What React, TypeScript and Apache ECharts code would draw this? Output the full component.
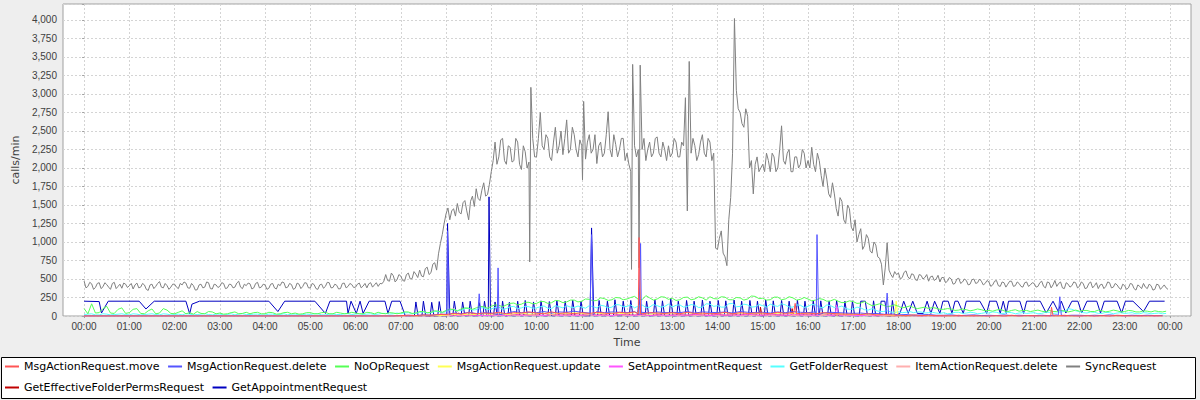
import React, { useEffect, useRef } from "react";
import * as echarts from "echarts";

const FONT = "Liberation Sans";
const LEGEND_FONT = "DejaVu Sans";

const timeLabels = [
  "00:00", "01:00", "02:00", "03:00", "04:00", "05:00", "06:00", "07:00", "08:00",
  "09:00", "10:00", "11:00", "12:00", "13:00", "14:00", "15:00", "16:00", "17:00",
  "18:00", "19:00", "20:00", "21:00", "22:00", "23:00", "00:00",
];

const seriesNames = [
  "MsgActionRequest.move",
  "MsgActionRequest.delete",
  "NoOpRequest",
  "MsgActionRequest.update",
  "SetAppointmentRequest",
  "GetFolderRequest",
  "ItemActionRequest.delete",
  "SyncRequest",
  "GetEffectiveFolderPermsRequest",
  "GetAppointmentRequest",
];

const seriesColors = [
  "#FF5555", "#5555FF", "#55FF55", "#FFFF55", "#FF55FF",
  "#55FFFF", "#FFAFAF", "#808080", "#C00000", "#0000C0",
];

// SyncRequest at hh:00, hh:05, ... (rows = hours)
const syncRequest5Min = [
  470, 400, 435, 385, 450, 395, 425, 360, 455, 400, 375, 430,
  410, 365, 445, 390, 420, 345, 430, 400, 465, 380, 410, 390,
  430, 370, 420, 445, 375, 410, 355, 430, 390, 450, 365, 420,
  400, 440, 380, 425, 390, 470, 370, 410, 435, 380, 455, 390,
  420, 375, 440, 365, 410, 450, 390, 425, 375, 430, 400, 445,
  380, 425, 360, 430, 400, 450, 385, 415, 370, 445, 400, 425,
  390, 445, 405, 380, 450, 420, 400, 435, 560, 470, 545, 490,
  540, 470, 580, 505, 565, 620, 530, 660, 585, 720, 840, 1100,
  1380, 1300, 1450, 1520, 1380, 1560, 1300, 1620, 1720, 1560, 1800, 1640,
  1950, 2350, 2150, 2400, 2050, 2280, 2100, 2350, 1980, 2220, 2080, 2400,
  2150, 2750, 2250, 2400, 2100, 2550, 2300, 2180, 2650, 2250, 2450, 2150,
  2300, 2120, 2450, 2250, 2060, 2350, 2200, 2760, 2150, 2320, 2250, 2400,
  2200, 1950, 2300, 2250, 2250, 2100, 2350, 2200, 2420, 2150, 2250, 2300,
  2200, 2350, 2150, 2300, 1420, 2200, 2300, 2180, 2450, 2150, 2350, 2200,
  900, 1150, 800, 1300, 2200, 3050, 2750, 2550, 2700, 2100, 2050, 1950,
  2050, 2200, 1950, 2150, 2000, 2570, 2050, 2250, 1950, 2150, 2050, 2200,
  2100, 2280, 1950, 2100, 1750, 1850, 1600, 1650, 1350, 1550, 1250, 1450,
  1150, 1000, 1180, 950, 1050, 850, 960, 780, 420, 990, 560, 600,
  580, 520, 610, 500, 560, 480, 550, 520, 470, 540, 500, 460,
  520, 470, 500, 440, 510, 460, 480, 430, 500, 450, 470, 440,
  460, 420, 480, 400, 450, 430, 470, 410, 440, 390, 460, 420,
  440, 400, 470, 380, 450, 420, 400, 460, 370, 430, 410, 450,
  400, 440, 380, 460, 410, 370, 430, 400, 450, 390, 420, 360,
  410, 380, 430, 350, 400, 440, 370, 410, 360, 420, 390, 380,
];
// SyncRequest at hh:02.5, hh:07.5, ... (rows = hours)
const syncRequestMid = [
  380, 455, 360, 440, 370, 450, 390, 440, 370, 430, 445, 385,
  440, 420, 380, 440, 360, 420, 370, 440, 390, 440, 360, 430,
  390, 440, 460, 380, 440, 350, 420, 380, 460, 370, 430, 385,
  450, 370, 430, 380, 445, 390, 430, 445, 365, 440, 380, 430,
  360, 430, 380, 430, 460, 380, 440, 360, 445, 370, 450, 380,
  440, 370, 420, 375, 455, 380, 430, 365, 440, 380, 440, 385,
  430, 380, 440, 435, 390, 450, 440, 470, 480, 580, 460, 560,
  480, 560, 500, 600, 520, 540, 640, 560, 700, 620, 980, 1250,
  1460, 1420, 1350, 1400, 1530, 1420, 1550, 1480, 1590, 1700, 1620, 1780,
  2100, 2050, 2380, 2100, 2300, 2080, 2400, 2050, 2300, 2000, 3090, 2150,
  2400, 2300, 2450, 2150, 2350, 2200, 2500, 2400, 2200, 2550, 2250, 2380,
  2900, 2350, 2200, 2450, 2300, 2150, 2450, 2250, 2450, 2150, 2400, 2100,
  2050, 3400, 2150, 3390, 2400, 2250, 2150, 2400, 2200, 2350, 2100, 2150,
  2400, 2150, 2350, 2950, 3440, 2400, 2100, 2350, 2200, 2400, 2100, 916,
  1050, 850, 680, 1600, 4020, 2800, 2600, 2800, 2000, 1650, 2150, 2000,
  1950, 2100, 2200, 1950, 2250, 2100, 2200, 1950, 2150, 2000, 2250, 2000,
  2000, 2050, 2200, 1900, 2000, 1650, 1800, 1450, 1600, 1300, 1500, 1200,
  1300, 1100, 900, 1100, 880, 1000, 800, 700, 650, 620, 520, 560,
  500, 590, 530, 570, 490, 560, 500, 560, 530, 480, 550, 520,
  450, 520, 430, 500, 440, 500, 420, 490, 440, 500, 420, 480,
  400, 470, 410, 460, 390, 470, 400, 460, 400, 450, 400, 450,
  390, 450, 400, 460, 380, 480, 440, 380, 450, 390, 460, 380,
  460, 370, 440, 380, 450, 420, 370, 460, 380, 440, 380, 430,
  360, 440, 370, 420, 370, 390, 430, 350, 430, 360, 420, 360,
];
// SyncRequest dips recorded between samples: [minute, value]
const syncRequestExtra: [number, number][] = [[591, 730], [661, 1840], [726, 630], [736, 650]];

// NoOpRequest at hh:00, hh:10, ... and at hh:05, hh:15, ...
const noOpRequest10Min = [
  100, 165, 45, 130, 35, 110,
  45, 100, 30, 95, 40, 80,
  30, 70, 45, 60, 30, 55,
  40, 30, 55, 35, 30, 50,
  30, 45, 30, 50, 40, 30,
  45, 30, 50, 30, 40, 35,
  40, 30, 45, 50, 30, 40,
  40, 55, 40, 60, 50, 65,
  75, 85, 95, 105, 110, 125,
  130, 145, 150, 175, 160, 185,
  170, 195, 180, 205, 190, 215,
  200, 225, 210, 235, 220, 245,
  230, 265, 220, 245, 230, 255,
  240, 220, 255, 230, 245, 260,
  230, 255, 220, 245, 230, 265,
  240, 220, 255, 230, 245, 225,
  230, 215, 225, 205, 200, 185,
  195, 175, 165, 150, 145, 135,
  130, 120, 115, 110, 100, 105,
  90, 95, 80, 85, 80, 85,
  75, 80, 70, 75, 65, 75,
  70, 65, 75, 60, 70, 65,
  65, 75, 60, 70, 65, 70,
  60, 70, 55, 65, 70, 55,
];
const noOpRequestMid = [
  30, 40, 100, 40, 90, 35,
  90, 35, 70, 30, 100, 35,
  50, 30, 25, 35, 60, 30,
  25, 45, 30, 50, 45, 30,
  50, 25, 45, 30, 25, 45,
  30, 45, 30, 50, 30, 50,
  30, 50, 30, 35, 45, 30,
  55, 35, 60, 45, 70, 50,
  95, 70, 110, 90, 130, 105,
  150, 125, 170, 150, 185, 165,
  195, 170, 210, 180, 215, 190,
  230, 205, 245, 210, 250, 220,
  250, 225, 275, 215, 260, 225,
  210, 250, 220, 260, 215, 235,
  260, 220, 250, 215, 270, 235,
  215, 255, 220, 260, 215, 250,
  205, 235, 200, 225, 180, 205,
  170, 195, 140, 165, 125, 150,
  110, 135, 100, 120, 115, 90,
  100, 75, 95, 70, 95, 70,
  65, 90, 60, 85, 75, 60,
  80, 55, 60, 75, 55, 80,
  75, 60, 80, 55, 80, 55,
  75, 55, 70, 55, 60, 65,
];

const getFolderRequest10Min = [
  20, 30, 15, 25, 20, 30,
  15, 25, 20, 30, 15, 25,
  20, 15, 25, 20, 30, 15,
  25, 20, 15, 30, 20, 25,
  15, 25, 20, 15, 25, 20,
  20, 30, 15, 25, 20, 30,
  25, 20, 30, 25, 35, 30,
  30, 45, 35, 55, 45, 60,
  65, 90, 75, 105, 85, 110,
  95, 120, 100, 130, 110, 125,
  110, 135, 100, 125, 140, 115,
  120, 140, 110, 135, 120, 150,
  130, 110, 150, 120, 140, 130,
  120, 150, 130, 145, 120, 160,
  140, 120, 170, 130, 150, 125,
  140, 160, 130, 150, 120, 145,
  130, 150, 110, 140, 120, 100,
  95, 110, 80, 75, 60, 55,
  60, 50, 45, 55, 45, 40,
  45, 35, 50, 40, 45, 35,
  40, 50, 35, 45, 40, 35,
  45, 35, 50, 40, 60, 90,
  60, 40, 50, 35, 45, 40,
  35, 45, 30, 40, 35, 30,
];
const getFolderRequestMid = [
  25, 15, 30, 15, 25, 20,
  30, 15, 25, 20, 30, 15,
  25, 30, 15, 25, 20, 25,
  15, 30, 25, 20, 25, 15,
  25, 15, 30, 25, 15, 25,
  30, 15, 25, 20, 30, 20,
  30, 25, 20, 35, 25, 40,
  40, 30, 50, 40, 60, 45,
  80, 70, 100, 80, 110, 90,
  115, 90, 125, 100, 130, 105,
  125, 105, 140, 110, 120, 135,
  105, 125, 145, 110, 155, 125,
  150, 135, 115, 155, 120, 160,
  145, 120, 155, 115, 165, 130,
  120, 165, 125, 160, 120, 155,
  120, 140, 165, 120, 150, 115,
  155, 120, 150, 115, 135, 90,
  120, 85, 100, 60, 70, 45,
  45, 60, 55, 40, 50, 35,
  30, 50, 35, 50, 30, 45,
  55, 35, 50, 30, 45, 40,
  30, 50, 35, 55, 100, 70,
  45, 55, 35, 50, 30, 45,
  40, 30, 45, 30, 40, 35,
];

const msgActionMove10Min = [
  0, 0, 0, 0, 0, 0,
  0, 0, 0, 0, 0, 0,
  0, 0, 0, 0, 0, 0,
  0, 0, 0, 0, 0, 0,
  0, 0, 0, 0, 0, 0,
  0, 0, 0, 0, 0, 0,
  0, 0, 0, 0, 0, 0,
  5, 10, 5, 15, 10, 20,
  20, 35, 25, 45, 30, 40,
  35, 50, 30, 45, 40, 55,
  40, 30, 55, 35, 45, 30,
  45, 35, 50, 40, 30, 50,
  40, 55, 30, 45, 40, 35,
  45, 30, 50, 35, 40, 30,
  35, 50, 30, 45, 35, 40,
  40, 30, 50, 35, 45, 35,
  40, 30, 45, 35, 30, 25,
  25, 20, 30, 15, 20, 15,
  10, 5, 15, 5, 10, 5,
  5, 0, 10, 0, 5, 0,
  0, 5, 0, 10, 0, 5,
  5, 0, 5, 0, 10, 0,
  0, 5, 0, 5, 0, 10,
  5, 0, 5, 0, 5, 0,
];
const msgActionMoveExtra: [number, number][] = [
  [735, 30], [736, 1060], [738, 30], [941, 30], [943, 170], [945, 30],
  [1282, 5], [1283, 120], [1285, 5],
];

const msgActionDelete10Min = [
  0, 0, 0, 0, 0, 0,
  0, 0, 0, 0, 0, 0,
  0, 0, 0, 0, 0, 0,
  0, 0, 0, 0, 0, 0,
  0, 0, 0, 0, 0, 0,
  0, 0, 0, 0, 0, 0,
  0, 0, 0, 0, 0, 0,
  5, 10, 5, 15, 10, 20,
  25, 40, 30, 50, 35, 45,
  40, 55, 35, 60, 45, 50,
  45, 60, 40, 55, 50, 65,
  50, 40, 60, 45, 55, 50,
  45, 60, 50, 40, 55, 45,
  50, 45, 60, 40, 55, 50,
  45, 55, 40, 60, 50, 45,
  50, 40, 55, 45, 60, 50,
  45, 55, 40, 50, 45, 40,
  35, 40, 30, 35, 25, 30,
  15, 20, 10, 15, 20, 10,
  10, 15, 5, 10, 15, 5,
  10, 5, 15, 5, 10, 5,
  5, 10, 5, 15, 5, 10,
  10, 5, 10, 5, 15, 5,
  5, 10, 5, 10, 5, 5,
];
const msgActionDeleteExtra: [number, number][] = [
  [481, 20], [482, 1150], [484, 20],
  [522, 20], [524, 300], [526, 20],
  [548, 20], [549, 650], [551, 20],
  [671, 20], [673, 1100], [675, 20],
  [736, 20], [738, 980], [739, 20],
  [971, 20], [972, 1100], [974, 20],
  [1063, 20], [1065, 310], [1067, 20],
  [1292, 10], [1294, 260], [1296, 10],
];

const msgActionUpdate10Min = [
  0, 0, 0, 0, 0, 0,
  0, 0, 0, 0, 0, 0,
  0, 0, 0, 0, 0, 0,
  0, 0, 0, 0, 0, 0,
  0, 0, 0, 0, 0, 0,
  0, 0, 0, 0, 0, 0,
  0, 0, 0, 0, 0, 0,
  0, 5, 0, 5, 10, 5,
  10, 20, 15, 25, 20, 30,
  25, 35, 20, 30, 40, 25,
  30, 40, 25, 35, 30, 45,
  35, 25, 40, 30, 45, 35,
  30, 45, 35, 25, 40, 30,
  40, 30, 45, 35, 30, 40,
  35, 45, 30, 40, 35, 30,
  40, 30, 35, 45, 30, 35,
  30, 40, 25, 35, 30, 25,
  20, 25, 15, 20, 15, 10,
  10, 5, 10, 5, 10, 5,
  5, 0, 5, 0, 5, 0,
  5, 0, 5, 0, 5, 0,
  5, 0, 5, 0, 5, 0,
  5, 0, 5, 0, 5, 0,
  5, 0, 5, 0, 5, 0,
];
const msgActionUpdateExtra: [number, number][] = [[1075, 5], [1077, 200], [1079, 5]];

const setAppointment10Min = [
  0, 0, 0, 0, 0, 0,
  0, 0, 0, 0, 0, 0,
  0, 0, 0, 0, 0, 0,
  0, 0, 0, 0, 0, 0,
  0, 0, 0, 0, 0, 0,
  0, 0, 0, 0, 0, 0,
  0, 0, 0, 0, 0, 0,
  0, 0, 5, 0, 5, 5,
  5, 10, 5, 15, 10, 5,
  10, 15, 5, 20, 10, 15,
  15, 5, 20, 10, 15, 10,
  10, 20, 10, 15, 5, 20,
  15, 10, 20, 5, 15, 10,
  10, 15, 10, 20, 15, 5,
  20, 10, 15, 10, 25, 15,
  10, 20, 15, 10, 20, 15,
  15, 10, 20, 10, 40, 15,
  10, 5, 10, 5, 10, 5,
  5, 10, 5, 0, 5, 0,
  0, 5, 0, 5, 0, 5,
  0, 5, 0, 5, 0, 5,
  0, 5, 0, 5, 0, 5,
  0, 5, 0, 5, 0, 5,
  0, 5, 0, 5, 0, 5,
];
const setAppointmentExtra: [number, number][] = [[996, 10], [998, 150], [1001, 10]];

const itemActionDelete10Min = [
  0, 0, 0, 0, 0, 0,
  0, 0, 0, 0, 0, 0,
  0, 0, 0, 0, 0, 0,
  0, 0, 0, 0, 0, 0,
  0, 0, 0, 0, 0, 0,
  0, 0, 0, 0, 0, 0,
  0, 0, 0, 0, 0, 0,
  0, 5, 0, 5, 10, 15,
  60, 100, 20, 10, 15, 10,
  10, 5, 15, 10, 5, 10,
  5, 10, 15, 5, 10, 5,
  10, 15, 5, 10, 5, 15,
  5, 10, 5, 15, 10, 5,
  10, 5, 15, 5, 10, 15,
  5, 15, 10, 5, 10, 5,
  15, 5, 10, 15, 5, 10,
  5, 10, 5, 10, 15, 5,
  5, 10, 5, 0, 5, 0,
  0, 0, 0, 0, 0, 0,
  0, 0, 0, 0, 0, 0,
  0, 0, 0, 0, 0, 0,
  0, 0, 0, 0, 0, 0,
  0, 0, 0, 0, 0, 0,
  0, 0, 0, 0, 0, 0,
];

const getEffectivePerms10Min = [
  0, 0, 0, 0, 0, 0,
  0, 0, 0, 0, 0, 0,
  0, 0, 0, 0, 0, 0,
  0, 0, 0, 0, 0, 0,
  0, 0, 0, 0, 0, 0,
  0, 0, 0, 0, 0, 0,
  0, 0, 0, 0, 0, 0,
  0, 5, 0, 5, 0, 5,
  5, 10, 5, 15, 10, 5,
  10, 15, 5, 20, 10, 15,
  15, 5, 20, 10, 15, 10,
  10, 20, 10, 15, 5, 20,
  15, 10, 20, 5, 15, 10,
  10, 15, 10, 20, 15, 5,
  20, 10, 15, 10, 25, 15,
  10, 20, 15, 10, 20, 15,
  15, 10, 20, 10, 15, 10,
  10, 5, 10, 5, 5, 0,
  5, 0, 5, 0, 5, 0,
  0, 5, 0, 5, 0, 5,
  0, 5, 0, 5, 0, 5,
  0, 5, 0, 5, 0, 5,
  0, 5, 0, 5, 0, 5,
  0, 5, 0, 5, 0, 5,
];
const getEffectivePermsExtra: [number, number][] = [
  [896, 5], [897, 120], [899, 5], [938, 5], [939, 100], [941, 5],
];

// GetAppointmentRequest, points as recorded: [minute, value]
const getAppointmentPoints: [number, number][] = [
  [0, 200], [20, 195], [23, 40], [32, 200], [73, 200], [82, 95], [93, 200],
  [135, 200], [140, 30], [143, 160], [153, 200], [245, 200], [257, 60], [266, 200],
  [306, 200], [320, 35], [326, 200], [348, 200], [350, 35], [354, 200], [361, 35],
  [366, 200], [370, 35], [378, 200], [399, 200], [403, 35], [408, 200], [419, 200], [426, 0],
  [438, 0], [440, 190], [443, 0], [448, 0], [450, 200], [453, 0],
  [459, 0], [461, 185], [464, 0], [469, 0], [471, 195], [474, 0],
  [481, 0], [482, 1250], [485, 0], [489, 0], [491, 200], [494, 0],
  [500, 0], [502, 190], [505, 0], [510, 0], [512, 200], [515, 0],
  [522, 0], [524, 180], [527, 0], [529, 0], [531, 200], [534, 0],
  [536, 0], [537, 1610], [539, 0], [543, 0], [545, 190], [548, 0],
  [553, 0], [555, 200], [558, 0], [562, 0], [564, 185], [567, 0],
  [573, 0], [575, 200], [578, 0], [583, 0], [585, 210], [588, 0],
  [594, 0], [596, 190], [599, 0], [604, 0], [606, 205], [609, 0],
  [615, 0], [617, 195], [620, 0], [625, 0], [627, 210], [630, 0],
  [636, 0], [638, 200], [641, 0], [646, 0], [648, 215], [651, 0],
  [657, 0], [659, 200], [662, 0], [671, 0], [673, 1190], [676, 0],
  [681, 0], [683, 210], [686, 0], [692, 0], [694, 200], [697, 0],
  [702, 0], [704, 220], [707, 0], [713, 0], [715, 200], [718, 0],
  [723, 0], [725, 210], [728, 0], [734, 0], [736, 230], [739, 0],
  [744, 0], [746, 200], [749, 0], [755, 0], [757, 215], [760, 0],
  [765, 0], [767, 205], [770, 0], [776, 0], [778, 240], [781, 0],
  [786, 0], [788, 200], [791, 0], [797, 0], [799, 210], [802, 0],
  [807, 0], [809, 200], [812, 0], [818, 0], [820, 215], [823, 0],
  [828, 0], [830, 200], [833, 0], [839, 0], [841, 210], [844, 0],
  [849, 0], [851, 205], [854, 0], [860, 0], [862, 215], [865, 0],
  [870, 0], [872, 200], [875, 0], [881, 0], [883, 210], [886, 0],
  [891, 0], [893, 200], [896, 0], [902, 0], [904, 215], [907, 0],
  [912, 0], [914, 205], [917, 0], [923, 0], [925, 210], [928, 0],
  [933, 0], [935, 200], [938, 0], [944, 0], [946, 215], [949, 0],
  [954, 0], [956, 200], [959, 0], [965, 0], [967, 210], [970, 0],
  [975, 0], [977, 205], [980, 0], [986, 0], [988, 200], [991, 0],
  [996, 0], [998, 210], [1001, 0], [1007, 0], [1009, 200], [1012, 0],
  [1017, 0], [1019, 205], [1022, 0], [1028, 0], [1030, 200], [1036, 200], [1039, 0],
  [1045, 0], [1047, 205], [1050, 0], [1055, 0], [1057, 200], [1062, 200], [1065, 0],
  [1070, 0], [1072, 210], [1075, 0],
  [1082, 35], [1087, 200], [1093, 35], [1099, 200], [1105, 35], [1113, 35], [1118, 200],
  [1123, 35], [1128, 200], [1135, 35], [1139, 200], [1146, 200], [1151, 35], [1155, 200],
  [1159, 200], [1166, 35], [1170, 200], [1188, 200], [1197, 35], [1201, 200], [1210, 200],
  [1215, 35], [1219, 200], [1223, 35], [1226, 200], [1241, 200], [1246, 35], [1250, 200],
  [1268, 200], [1276, 40], [1285, 200], [1292, 60], [1296, 200], [1302, 40], [1310, 200],
  [1318, 200], [1323, 40], [1330, 200], [1343, 200], [1348, 40], [1353, 200], [1370, 200],
  [1376, 40], [1381, 200], [1391, 200], [1405, 60], [1413, 200], [1433, 200],
];

function buildSeries(
  values: number[],
  step: number,
  mids: number[] = [],
  extra: [number, number][] = []
) {
  const pts: [number, number][] = values.map((v, i) => [i * step, v]);
  const midPts: [number, number][] = mids.map((v, i) => [i * step + step / 2, v]);
  return pts.concat(midPts, extra).sort((a, b) => a[0] - b[0]);
}

const seriesData: [number, number][][] = [
  buildSeries(msgActionMove10Min, 10, [], msgActionMoveExtra),
  buildSeries(msgActionDelete10Min, 10, [], msgActionDeleteExtra),
  buildSeries(noOpRequest10Min, 10, noOpRequestMid),
  buildSeries(msgActionUpdate10Min, 10, [], msgActionUpdateExtra),
  buildSeries(setAppointment10Min, 10, [], setAppointmentExtra),
  buildSeries(getFolderRequest10Min, 10, getFolderRequestMid),
  buildSeries(itemActionDelete10Min, 10),
  buildSeries(syncRequest5Min, 5, syncRequestMid, syncRequestExtra),
  buildSeries(getEffectivePerms10Min, 10, [], getEffectivePermsExtra),
  getAppointmentPoints.slice(),
];

export default function App() {
  const ref = useRef<HTMLDivElement>(null);

  useEffect(() => {
    document.body.style.margin = "0";
    if (!ref.current) return;
    const chart = echarts.init(ref.current, undefined, { renderer: "svg" });

    const gridLine = { show: true, lineStyle: { color: "#d4d4d4", type: [2, 2], width: 1 } };
    const tickStyle = { show: true, length: 2, lineStyle: { color: "#a0a0a0" } };

    const series = seriesNames
      .map((name, i) => ({
        name,
        type: "line",
        xAxisIndex: 0,
        yAxisIndex: 0,
        data: seriesData[i],
        showSymbol: false,
        symbol: "none",
        color: seriesColors[i],
        itemStyle: { color: seriesColors[i] },
        lineStyle: { color: seriesColors[i], width: 1 },
        emphasis: { disabled: true },
      }))
      .reverse();

    const legendItems = (from: number, to: number) =>
      seriesNames.slice(from, to).map((name, k) => ({
        name,
        icon: "rect",
        itemStyle: { color: seriesColors[from + k] },
      }));

    const legendCommon = {
      left: 5,
      orient: "horizontal",
      itemWidth: 14,
      itemHeight: 2,
      itemGap: 8.5,
      padding: 0,
      selectedMode: false,
      textStyle: { fontSize: 11, color: "#000000", fontFamily: LEGEND_FONT },
    };

    chart.setOption({
      animation: false,
      backgroundColor: "#eeeeee",
      textStyle: { fontFamily: FONT },
      grid: [
        {
          left: 63, top: 4, width: 1128, height: 312, show: true,
          backgroundColor: "#ffffff", borderColor: "#a0a0a0", borderWidth: 1,
        },
        { left: 84, top: 4, width: 1086, height: 312, show: false },
      ],
      xAxis: [
        { gridIndex: 0, type: "value", min: -28, max: 1468, show: false },
        {
          gridIndex: 1, type: "value", min: 0, max: 1440, interval: 60,
          axisLine: { show: false },
          axisTick: tickStyle,
          axisLabel: {
            formatter: (v: number) => timeLabels[Math.round(v / 60)] ?? "",
            fontSize: 10, color: "#404040", margin: 5, fontFamily: FONT,
          },
          splitLine: gridLine,
          name: "Time", nameLocation: "middle", nameGap: 21,
          nameTextStyle: { fontSize: 11, color: "#404040", fontFamily: LEGEND_FONT },
        },
      ],
      yAxis: [
        {
          gridIndex: 0, type: "value", min: 0, max: 4216, interval: 250,
          axisLine: { show: false },
          axisTick: tickStyle,
          axisLabel: {
            formatter: (v: number) => (v % 250 === 0 ? v.toLocaleString("en-US") : ""),
            fontSize: 10, color: "#404040", margin: 6, fontFamily: FONT,
          },
          splitLine: gridLine,
          name: "calls/min", nameLocation: "middle", nameGap: 40, nameRotate: 90,
          nameTextStyle: { fontSize: 11, color: "#404040", fontFamily: LEGEND_FONT },
        },
        { gridIndex: 1, type: "value", min: 0, max: 4216, show: false },
      ],
      legend: [
        { ...legendCommon, top: 361, data: legendItems(0, 8) },
        { ...legendCommon, top: 382, data: legendItems(8, 10) },
      ],
      graphic: [
        {
          type: "rect", z: 0,
          shape: { x: 1.5, y: 357.5, width: 1194, height: 41 },
          style: { fill: "#ffffff", stroke: "#000000", lineWidth: 1 },
          silent: true,
        },
      ],
      series,
    });

    return () => chart.dispose();
  }, []);

  return <div ref={ref} style={{ width: 1200, height: 400 }} />;
}
